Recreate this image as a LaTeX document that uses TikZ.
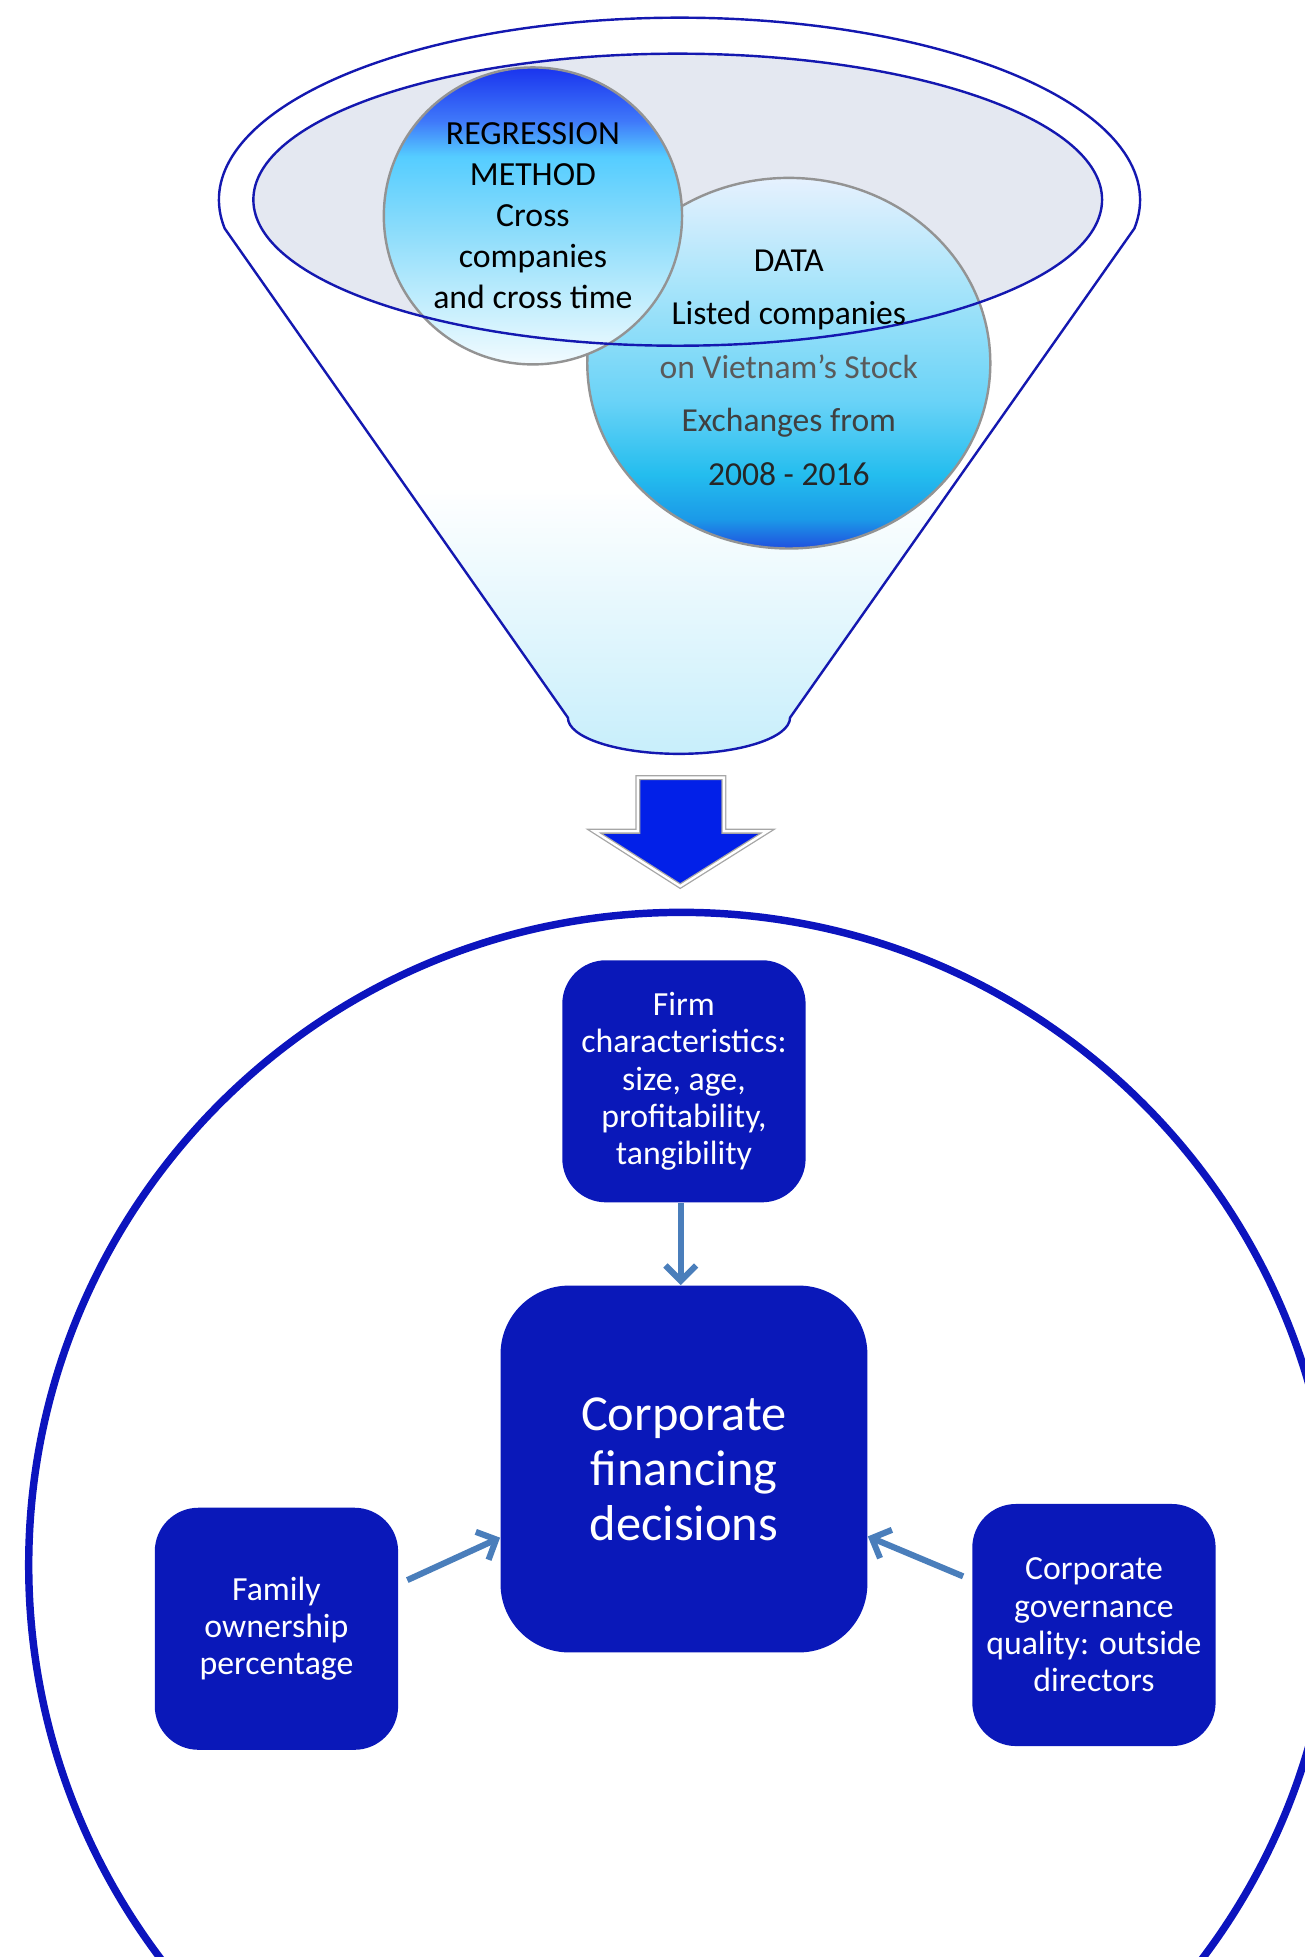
\documentclass[tikz,border=0pt]{standalone}
\usepackage{fontspec}
\setmainfont{Carlito}
\usetikzlibrary{positioning, arrows.meta, shapes.geometric}
\definecolor{boxblue}{HTML}{0A18B9}
\definecolor{ringblue}{HTML}{0C14BE}
\definecolor{funnelblue}{HTML}{1418B0}
\definecolor{arrowsteel}{HTML}{4A7EBB}
\definecolor{bigarrowblue}{HTML}{0220E8}
\definecolor{topgray}{HTML}{E4E8F1}
\definecolor{funnelcyan}{HTML}{C6EEFB}
\definecolor{regc1}{HTML}{F2FBFF}
\definecolor{regc2}{HTML}{C4EEFD}
\definecolor{regc3}{HTML}{8EDDFB}
\definecolor{regc4}{HTML}{55CDFF}
\definecolor{regc5}{HTML}{3F78FA}
\definecolor{regc6}{HTML}{1A34EE}
\definecolor{datc1}{HTML}{2050DF}
\definecolor{datc2}{HTML}{1B9AE8}
\definecolor{datc3}{HTML}{24BDEE}
\definecolor{datc4}{HTML}{6AD3F7}
\definecolor{datc5}{HTML}{A6E4FA}
\definecolor{datc6}{HTML}{E6F1FE}
\definecolor{textgray}{HTML}{5A5A5A}
\definecolor{textdark}{HTML}{404040}
\pgfdeclareverticalshading{regshade}{100bp}{color(0bp)=(regc1); color(25bp)=(regc1);
  color(35bp)=(regc2); color(47bp)=(regc3); color(60bp)=(regc4);
  color(66bp)=(regc5); color(75bp)=(regc6); color(100bp)=(regc6)}
\pgfdeclareverticalshading{datashade}{100bp}{color(0bp)=(datc1); color(25bp)=(datc1);
  color(29bp)=(datc2); color(35bp)=(datc3); color(45bp)=(datc4);
  color(60bp)=(datc5); color(75bp)=(datc6); color(100bp)=(datc6)}
\tikzset{
	bubble/.style={
			ellipse,
			draw=gray!85,
			line width=1.1pt,
			inner sep=0pt
		},
	bubbletext/.style={
			align=center,
			inner sep=0pt
		},
	funnelline/.style={
			draw=funnelblue,
			line width=1.1pt
		},
	factorbox/.style={
			rectangle,
			rounded corners=0.7cm,
			fill=boxblue,
			text=white,
			align=center,
			minimum width=3.9cm,
			minimum height=3.88cm,
			font=\fontsize{15.4}{17}\selectfont
		},
	mainbox/.style={
			factorbox,
			rounded corners=1.1cm,
			minimum width=5.88cm,
			minimum height=5.88cm,
			font=\fontsize{23}{25}\selectfont
		},
	flowarrow/.style={
			draw=arrowsteel,
			line width=2.8pt,
			-{Straight Barb[length=7pt,width=14pt]}
		}
}

\begin{document}
\begin{tikzpicture}[x=0.02cm, y=0.02cm]
\useasboundingbox (0,0) rectangle (1045,-1568);

% funnel
\def\funnelpath{(455,-575) -- (180,-183)
  arc[start angle=189, end angle=-9, x radius=369, y radius=146]
  -- (633,-575) arc[start angle=0, end angle=-180, x radius=89, y radius=29] -- cycle}
\begin{scope}
\clip \funnelpath;
\shade[top color=white, bottom color=funnelcyan] (160,-390) rectangle (930,-610);
\end{scope}
\fill[topgray] (543,-160) ellipse[x radius=340, y radius=117];

\node[bubble, shading=datashade, minimum width=6.46cm, minimum height=5.94cm] (data) at (632,-291) {};
\node[bubble, shading=regshade, minimum width=4.78cm, minimum height=4.76cm] (reg) at (427,-173) {};

\draw[funnelline] (543,-160) ellipse[x radius=340, y radius=117];
\draw[funnelline] \funnelpath;

\node[bubbletext, font=\fontsize{15.4}{18.7}\selectfont] (regtxt) at (reg.center)
  {REGRESSION\\METHOD\\Cross\\companies\\and cross time};
\node[bubbletext, font=\fontsize{15.3}{24.4}\selectfont] (datatxt) at ([yshift=-0.07cm]data.center)
  {DATA\\Listed companies\\\textcolor{textgray}{on Vietnam’s Stock}\\
   \textcolor{textdark}{Exchanges from}\\\textcolor{black!85}{2008 - 2016}};

% arrow down
\draw[draw=gray!70, double=white, double distance=1.1pt, line width=0.6pt, fill=bigarrowblue]
  (511,-623) -- (580,-623) -- (580,-666) -- (615,-666) -- (545,-710)
  -- (476,-666) -- (511,-666) -- cycle;

% big ring
\draw[draw=ringblue, line width=3.4pt] (546,-1254) circle[radius=523];

\node[mainbox] (dec) at (548,-1177) {Corporate\\financing\\decisions};
\node[factorbox, above=1.32cm of dec] (firm)
  {Firm\\characteristics:\\size, age,\\profitability,\\tangibility};
\node[factorbox] (fam) at (221.5,-1305) {Family\\ownership\\percentage};
\node[factorbox] (gov) at (876.5,-1302) {Corporate\\governance\\quality: outside\\directors};

\draw[flowarrow] ([xshift=-0.05cm]firm.south) -- ([xshift=-0.05cm]dec.north);
\draw[flowarrow] ([xshift=0.14cm, yshift=0.78cm]fam.east) -- ([yshift=-1.1cm]dec.west);
\draw[flowarrow] ([xshift=-0.14cm, yshift=0.78cm]gov.west) -- ([yshift=-1.08cm]dec.east);

\end{tikzpicture}
\end{document}
